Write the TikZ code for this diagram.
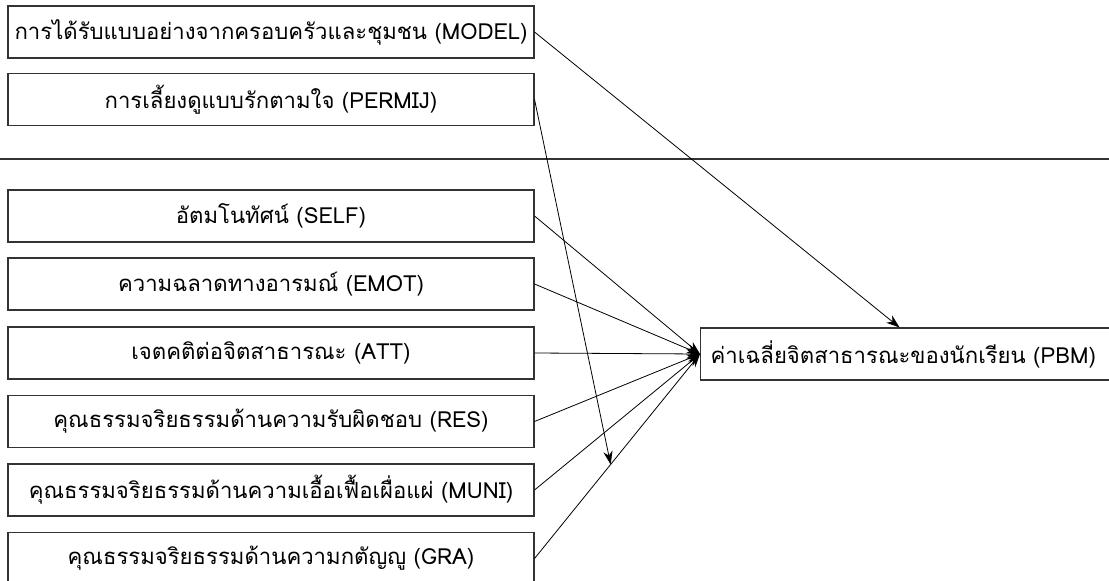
\documentclass[tikz,border=0pt]{standalone}
\usepackage{fontspec}
\setmainfont[Script=Thai]{Loma}
\usetikzlibrary{arrows.meta,calc}

\tikzset{
	varbox/.style={draw=black!80,line width=0.8pt,minimum width=394.5pt,minimum height=39pt,inner sep=0pt,font=\fontsize{16.6}{20}\selectfont},
	outbox/.style={draw=black!80,line width=0.8pt,minimum height=39pt,text width=296pt,inner xsep=7.5pt,inner ysep=0pt,align=left,font=\fontsize{16.6}{20}\selectfont},
	path/.style={->,line width=0.6pt}
}

\begin{document}
\begin{tikzpicture}[>={Stealth[length=10pt,width=7pt]},x=0.75pt,y=-0.75pt]
	\clip (0,0) rectangle (1109,581);
	\useasboundingbox (0,0) rectangle (1109,581);
	% independent variables
	\node[varbox] (model) at (271,32) {การได้รับแบบอย่างจากครอบครัวและชุมชน (MODEL)};
	\node[varbox] (permij) at (271,99.5) {การเลี้ยงดูแบบรักตามใจ (PERMIJ)};
	\draw[line width=0.8pt,black!80] (0,159) -- (1109,159);
	\node[varbox] (self) at (271,216) {อัตมโนทัศน์ (SELF)};
	\node[varbox] (emot) at (271,284) {ความฉลาดทางอารมณ์ (EMOT)};
	\node[varbox] (att) at (271,353) {เจตคติต่อจิตสาธารณะ (ATT)};
	\node[varbox] (res) at (271,421.5) {คุณธรรมจริยธรรมด้านความรับผิดชอบ (RES)};
	\node[varbox] (muni) at (271,490) {คุณธรรมจริยธรรมด้านความเอื้อเฟื้อเผื่อแผ่ (MUNI)};
	\node[varbox] (gra) at (271,558.5) {คุณธรรมจริยธรรมด้านความกตัญญู (GRA)};
	% dependent variable
	\node[outbox,anchor=west] (pbm) at (700,354) {ค่าเฉลี่ยจิตสาธารณะของนักเรียน (PBM)};
	% paths
	\coordinate (pbmtop) at ($(pbm.north west)!0.48!(pbm.north east)$);
	\coordinate (ongra) at ($(gra.east)!0.46!(pbm.west)$);
	\draw[path] (model.east) -- (pbmtop);
	\draw[path] (permij.east) -- (ongra);
	\foreach \v in {self,emot,att,res,muni,gra}
		\draw[path] (\v.east) -- (pbm.west);
\end{tikzpicture}
\end{document}
